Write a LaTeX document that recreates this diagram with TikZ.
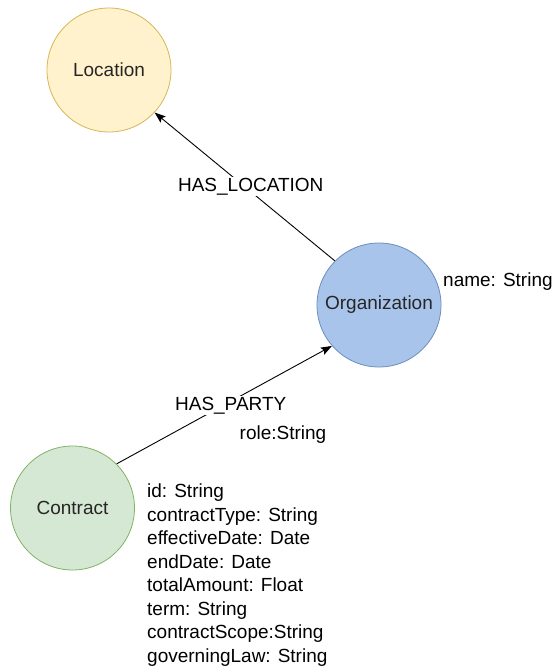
\documentclass[tikz,border=0pt]{standalone}
\usepackage{fontspec}
\setmainfont{Liberation Sans}
\usetikzlibrary{arrows.meta}

\definecolor{locfill}{HTML}{FFF2CC}
\definecolor{locline}{HTML}{D6B656}
\definecolor{orgfill}{HTML}{A9C4EB}
\definecolor{orgline}{HTML}{6C8EBF}
\definecolor{confill}{HTML}{D5E8D4}
\definecolor{conline}{HTML}{82B366}

\tikzset{
  entity/.style={circle, draw, minimum size=124pt, inner sep=0pt, line width=0.8pt,
    text=black!85, font=\fontsize{19}{23.5}\selectfont},
  rel/.style={-{Stealth[length=11pt,width=8pt,inset=2pt]}, line width=0.9pt},
  rellabel/.style={fill=white, inner sep=1pt, font=\fontsize{19}{23.5}\selectfont},
  prop/.style={inner sep=0pt, align=left, font=\fontsize{19}{23.5}\selectfont}
}

\begin{document}
\begin{tikzpicture}[x=1pt,y=-1pt]
    \useasboundingbox (0,0) rectangle (556,669);
    % entities
    \node[entity, fill=locfill, draw=locline] (location) at (109,70) {Location};
    \node[entity, fill=orgfill, draw=orgline] (organization) at (379,305) {Organization};
    \node[entity, fill=confill, draw=conline] (contract) at (72.5,508) {Contract};

    % relations
    \draw[rel] (organization.135) -- (location.-43)
        node[rellabel, pos=0.5, xshift=6pt] (haslocation) {HAS\_LOCATION};
    \draw[rel] (contract.45) -- (organization.221)
        node[rellabel, pos=0.53, yshift=-4pt] (hasparty) {HAS\_PARTY};

    % properties
    \node[prop, anchor=west] (orgprops) at (443,282) {name: String};
    \node[prop] (partyprops) at (283,435) {role:String};
    \node[prop, anchor=north west] (contractprops) at (147,484) {id: String\\
        contractType: String\\effectiveDate: Date\\endDate: Date\\
        totalAmount: Float\\term: String\\contractScope:String\\governingLaw: String};
\end{tikzpicture}
\end{document}
